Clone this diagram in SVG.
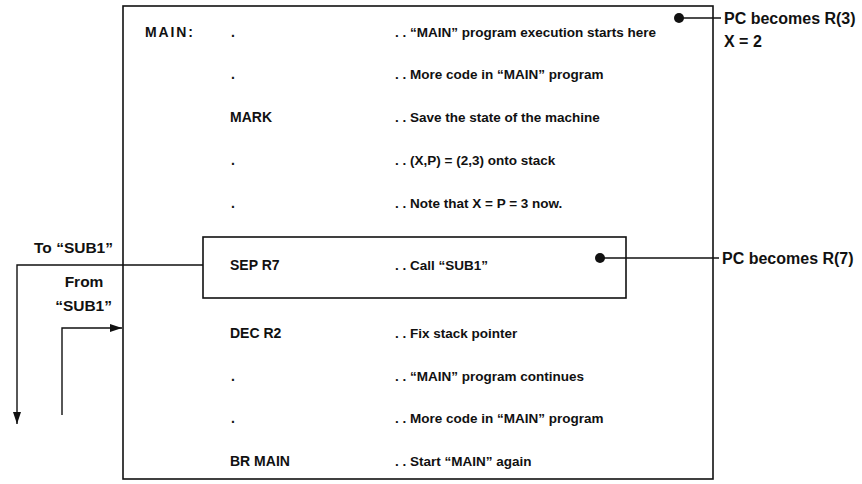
<svg xmlns="http://www.w3.org/2000/svg" width="862" height="484" viewBox="0 0 862 484">
<defs>
<style>
text{font-family:"Liberation Sans",Arial,sans-serif;font-size:13.5px;font-weight:bold;fill:#111}
.code{font-size:14px}
.lbl{font-size:15.5px}
.rl{font-size:16px}
.ln{stroke:#111;stroke-width:1.4;fill:none}
.bx{stroke:#111;stroke-width:1.6;fill:none}
</style>
<marker id="ah" viewBox="0 0 12 8" refX="12" refY="4" markerWidth="12" markerHeight="8" markerUnits="userSpaceOnUse" orient="auto">
<path d="M0,0 L12,4 L0,8 Z" fill="#111"/>
</marker>
</defs>
<g id="main-box">
<rect class="bx" x="123" y="6" width="590" height="473"/>
<text class="code" x="145" y="37" textLength="48">MAIN:</text>
<text class="code" x="231" y="37">.</text><text x="395" y="37">. . “MAIN” program execution starts here</text>
<text class="code" x="231" y="79">.</text><text x="395" y="79">. . More code in “MAIN” program</text>
<text class="code" x="230" y="122">MARK</text><text x="395" y="122">. . Save the state of the machine</text>
<text class="code" x="231" y="165">.</text><text x="395" y="165">. . (X,P) = (2,3) onto stack</text>
<text class="code" x="231" y="208">.</text><text x="395" y="208">. . Note that X = P = 3 now.</text>
<text class="code" x="230" y="338">DEC R2</text><text x="395" y="338">. . Fix stack pointer</text>
<text class="code" x="231" y="381">.</text><text x="395" y="381">. . “MAIN” program continues</text>
<text class="code" x="231" y="423">.</text><text x="395" y="423">. . More code in “MAIN” program</text>
<text class="code" x="230" y="466">BR MAIN</text><text x="395" y="466">. . Start “MAIN” again</text>
</g>
<g id="sep-box">
<rect class="bx" x="203" y="237" width="423" height="61"/>
<text class="code" x="230" y="270">SEP R7</text><text x="395" y="270">. . Call “SUB1”</text>
</g>
<g id="pc-r3">
<text class="rl" x="724" y="24">PC becomes R(3)</text>
<text class="rl" x="724" y="47">X = 2</text>
</g>
<g id="pc-r7">
<text class="rl" x="722" y="264">PC becomes R(7)</text>
</g>
<g id="labels-left">
<text class="lbl" x="113" y="253" text-anchor="end">To “SUB1”</text>
<text class="lbl" x="84" y="287" text-anchor="middle">From</text>
<text class="lbl" x="112" y="311" text-anchor="end">“SUB1”</text>
</g>
<g id="connectors">
<circle cx="679" cy="18" r="5" fill="#111"/>
<line class="ln" x1="679" y1="18" x2="721" y2="18"/>
<circle cx="600" cy="258" r="5" fill="#111"/>
<line class="ln" x1="600" y1="258" x2="719" y2="258"/>
<polyline class="ln" points="203,265 17,265 17,424" marker-end="url(#ah)"/>
<polyline class="ln" points="62,415 62,328 122,328" marker-end="url(#ah)"/>
</g>
</svg>
